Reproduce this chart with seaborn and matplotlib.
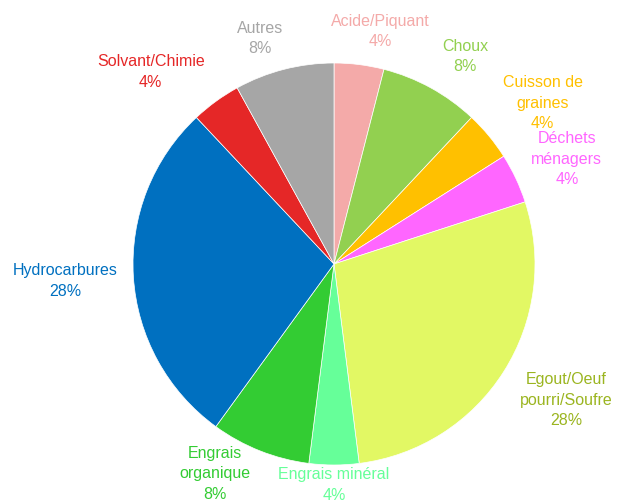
import seaborn as sns
import matplotlib.pyplot as plt
import numpy as np

# odour categories, clockwise from the top
categories = ['Acide/Piquant', 'Choux', 'Cuisson de\ngraines', 'Déchets\nménagers',
              'Egout/Oeuf\npourri/Soufre', 'Engrais minéral', 'Engrais\norganique',
              'Hydrocarbures', 'Solvant/Chimie', 'Autres']
shares = [4, 8, 4, 4, 28, 4, 8, 28, 4, 8]

slice_colors = ['#f4aaa9', '#92d050', '#ffc000', '#ff66ff', '#e2f864',
                '#66ff99', '#33cc33', '#0070c0', '#e52727', '#a6a6a6']
text_colors = ['#f4aaa9', '#92d050', '#ffc000', '#ff66ff', '#9bb520',
               '#66ff99', '#33cc33', '#0070c0', '#e52727', '#a6a6a6']
# label placement: distance from centre (radii) and angle nudge (deg, clockwise)
label_dist = [1.18, 1.22, 1.31, 1.27, 1.34, 1.10, 1.20, 1.34, 1.32, 1.18]
label_nudge = [4, 3.5, 2, 1, -2, 0, 8, 0, -7.7, -3.7]

sns.set_theme(style='white')
plt.rcParams['font.family'] = ['Liberation Sans', 'DejaVu Sans']

fig = plt.figure(figsize=(6.17, 5.04), dpi=100)
ax = fig.add_axes([0, 0, 1, 1])

pal = sns.color_palette(slice_colors)
wedges, texts = ax.pie(shares, colors=pal, startangle=90, counterclock=False,
                       radius=1, wedgeprops=dict(linewidth=0.5, edgecolor='white'))

total = sum(shares)
for w, lab, v, c, d, n in zip(wedges, categories, shares, text_colors,
                              label_dist, label_nudge):
    mid = np.deg2rad((w.theta1 + w.theta2) / 2 - n)
    x, y = d * np.cos(mid), d * np.sin(mid)
    ax.text(x, y, f'{lab}\n{round(100 * v / total)}%', color=c, fontsize=11.5,
            ha='center', va='center', linespacing=1.45)

r_px = 201
ax.set_xlim(-334 / r_px, (617 - 334) / r_px)
ax.set_ylim(-240 / r_px, (504 - 240) / r_px)
ax.set_aspect('auto')
ax.axis('off')

fig.savefig('out.png', dpi=100)
